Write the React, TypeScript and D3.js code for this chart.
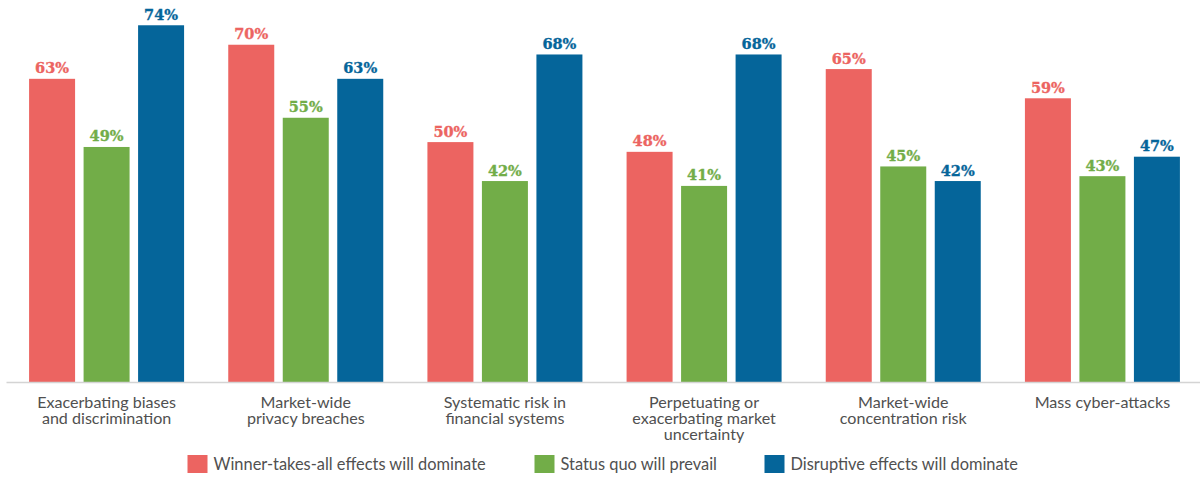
import React from "react";
import * as d3 from "d3";

const categories: string[][] = [
  ["Exacerbating biases", "and discrimination"],
  ["Market-wide", "privacy breaches"],
  ["Systematic risk in", "financial systems"],
  ["Perpetuating or", "exacerbating market", "uncertainty"],
  ["Market-wide", "concentration risk"],
  ["Mass cyber-attacks"],
];
const seriesNames = [
  "Winner-takes-all effects will dominate",
  "Status quo will prevail",
  "Disruptive effects will dominate",
];
const winnerTakesAll = [63, 70, 50, 48, 65, 59];
const statusQuo = [49, 55, 42, 41, 45, 43];
const disruptive = [74, 63, 68, 68, 42, 47];
const colors = ["#EC6461", "#72AD48", "#05659A"];

const W = 1200;
const H = 478;
const axisY = 382.5;

export default function App() {
  const series = [winnerTakesAll, statusQuo, disruptive];
  const keys = categories.map((_, i) => String(i));
  const x0 = d3.scaleBand<string>().domain(keys).range([7, 1202]).padding(0);
  const x1 = d3
    .scaleBand<number>()
    .domain([0, 1, 2])
    .range([-77.5, 77.5])
    .paddingInner(0.156)
    .paddingOuter(0);
  const y = d3.scaleLinear().domain([0, 80]).range([385.5, 385.5 - 80 * 4.868]);

  // legend layout
  const legendFont = 16.4;
  const sq = 20;
  const approxW = [272, 155, 228];
  const gapText = 6;
  const gapItem = 49;
  const totalW =
    approxW.reduce((a, b) => a + b, 0) + 3 * (sq + gapText) + 2 * gapItem;
  let lx = 603 - totalW / 2;
  const legendItems = seriesNames.map((n, i) => {
    const item = { name: n, x: lx, color: colors[i] };
    lx += sq + gapText + approxW[i] + gapItem;
    return item;
  });

  return (
    <div style={{ position: "fixed", left: 0, top: 0 }}>
      <svg width={W} height={H} style={{ display: "block", background: "#fff" }}>
        {categories.map((cat, ci) => {
          const cx = (x0(keys[ci]) as number) + x0.bandwidth() / 2;
          return (
            <g key={ci}>
              {series.map((s, si) => {
                const bx = cx + (x1(si) as number);
                const v = s[ci];
                return (
                  <g key={si}>
                    <rect
                      x={bx}
                      y={y(v)}
                      width={x1.bandwidth()}
                      height={axisY - 0.5 - y(v)}
                      fill={colors[si]}
                    />
                    <text
                      x={bx + x1.bandwidth() / 2}
                      y={y(v) - 5.5}
                      textAnchor="middle"
                      fill={colors[si]}
                      fontFamily="'DejaVu Serif', serif"
                      fontWeight={700}
                      fontSize={14.5}
                      stroke={colors[si]}
                      strokeWidth={0.35}
                    >
                      {v}%
                    </text>
                  </g>
                );
              })}
              <text
                x={cx}
                textAnchor="middle"
                fill="#505050"
                fontFamily="Lato, sans-serif"
                fontSize={16.1}
              >
                {cat.map((line, li) => (
                  <tspan key={li} x={cx} y={407.5 + li * 16.2}>
                    {line}
                  </tspan>
                ))}
              </text>
            </g>
          );
        })}
        <line x1={6.5} x2={W} y1={axisY} y2={axisY} stroke="#d4d4d4" strokeWidth={1.5} />
        {legendItems.map((it, i) => (
          <g key={i}>
            <rect x={it.x} y={455} width={sq} height={18} fill={it.color} />
            <text
              x={it.x + sq + gapText}
              y={470}
              fill="#505050"
              fontFamily="Lato, sans-serif"
              fontSize={legendFont}
            >
              {it.name}
            </text>
          </g>
        ))}
      </svg>
    </div>
  );
}
